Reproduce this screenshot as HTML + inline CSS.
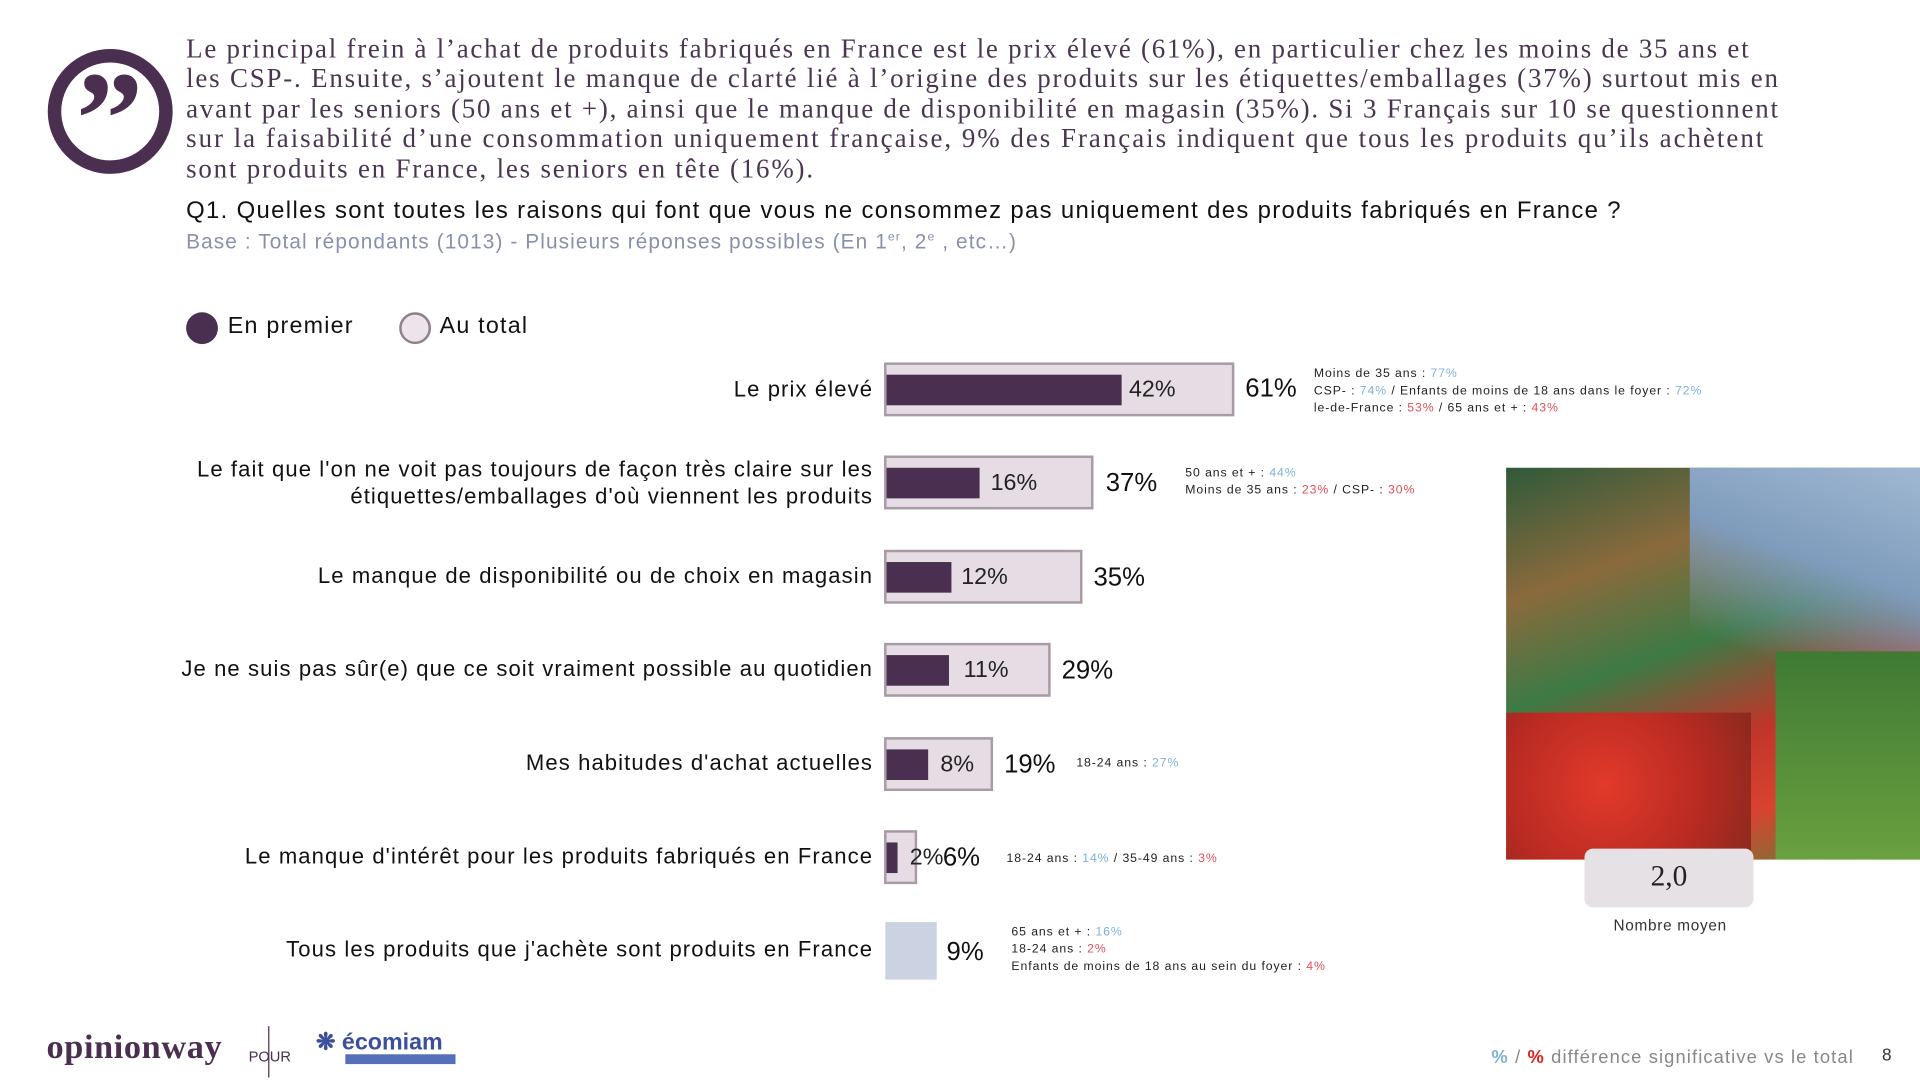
<!DOCTYPE html>
<html><head><meta charset="utf-8"><style>
html,body{margin:0;padding:0;background:#fff;width:1920px;height:1080px;overflow:hidden}
#s{position:absolute;left:0;top:0;width:1568px;height:882px;transform:scale(1.22449);transform-origin:0 0;font-family:"Liberation Sans",sans-serif;color:#111}
.a{position:absolute;white-space:nowrap}
.lab{position:absolute;right:855px;text-align:right;font-size:18px;letter-spacing:0.9px;line-height:22px;color:#111;white-space:nowrap}
.box{position:absolute;left:722px;height:44px;background:#e6dde4;border:2px solid #a89aa6;box-sizing:border-box}
.bar{position:absolute;left:724px;height:25px;background:#4b2f50}
.v{position:absolute;font-size:19px;color:#222}
.t{position:absolute;font-size:21px;color:#111}
.n{position:absolute;font-size:10px;letter-spacing:0.75px;line-height:14px;color:#222;white-space:nowrap}
.b{color:#7fb2d8}.r{color:#e0505a}
</style></head><body><div id="s">
<div class="a" style="left:39px;top:40px;width:80px;height:80px;border:11px solid #4b2f50;border-radius:50%"></div>
<div class="a" style="left:62px;top:34px;font-family:'Liberation Serif',serif;font-size:110px;font-weight:bold;color:#4b2f50;letter-spacing:-6px">&#8221;</div>
<svg class="a" style="left:0;top:0" width="1568" height="160" font-family="Liberation Serif, serif" font-size="22" fill="#4a3650">
<text x="152" y="47" textLength="1276" lengthAdjust="spacing">Le principal frein à l’achat de produits fabriqués en France est le prix élevé (61%), en particulier chez les moins de 35 ans et</text>
<text x="152" y="71" textLength="1300" lengthAdjust="spacing">les CSP-. Ensuite, s’ajoutent le manque de clarté lié à l’origine des produits sur les étiquettes/emballages (37%) surtout mis en</text>
<text x="152" y="96" textLength="1300" lengthAdjust="spacing">avant par les seniors (50 ans et +), ainsi que le manque de disponibilité en magasin (35%). Si 3 Français sur 10 se questionnent</text>
<text x="152" y="120" textLength="1288" lengthAdjust="spacing">sur la faisabilité d’une consommation uniquement française, 9% des Français indiquent que tous les produits qu’ils achètent</text>
<text x="152" y="145" textLength="512" lengthAdjust="spacing">sont produits en France, les seniors en tête (16%).</text>
</svg>
<div class="a" style="left:152px;top:161px;font-size:19.5px;letter-spacing:1.1px;color:#111">Q1. Quelles sont toutes les raisons qui font que vous ne consommez pas uniquement des produits fabriqués en France ?</div>
<div class="a" style="left:152px;top:188px;font-size:17px;letter-spacing:0.9px;color:#8a90ac">Base : Total répondants (1013) - Plusieurs réponses possibles (En 1<sup style="font-size:10px">er</sup>, 2<sup style="font-size:10px">e</sup> , etc…)</div>
<div class="a" style="left:152px;top:255px;width:26px;height:26px;border-radius:50%;background:#4b2f50"></div>
<div class="a" style="left:186px;top:256px;font-size:19px;letter-spacing:1px">En premier</div>
<div class="a" style="left:326px;top:255px;width:22px;height:22px;border-radius:50%;background:#ece4ea;border:2px solid #8f7f8d"></div>
<div class="a" style="left:359px;top:256px;font-size:19px;letter-spacing:1px">Au total</div>

<div class="lab" style="top:307px">Le prix élevé</div>
<div class="box" style="top:296px;width:286px"></div><div class="bar" style="top:306px;width:192px"></div>
<div class="v" style="left:922px;top:308px">42%</div><div class="t" style="left:1017px;top:306px">61%</div>
<div class="n" style="left:1073px;top:299px">Moins de 35 ans : <span class="b">77%</span><br>CSP- : <span class="b">74%</span> / Enfants de moins de 18 ans dans le foyer : <span class="b">72%</span><br>le-de-France : <span class="r">53%</span> / 65 ans et + : <span class="r">43%</span></div>

<div class="lab" style="top:372px">Le fait que l'on ne voit pas toujours de façon très claire sur les<br>étiquettes/emballages d'où viennent les produits</div>
<div class="box" style="top:372px;width:171px"></div><div class="bar" style="top:382px;width:76px"></div>
<div class="v" style="left:809px;top:384px">16%</div><div class="t" style="left:903px;top:383px">37%</div>
<div class="n" style="left:968px;top:380px">50 ans et + : <span class="b">44%</span><br>Moins de 35 ans : <span class="r">23%</span> / CSP- : <span class="r">30%</span></div>

<div class="lab" style="top:459px">Le manque de disponibilité ou de choix en magasin</div>
<div class="box" style="top:449px;width:162px"></div><div class="bar" style="top:459px;width:53px"></div>
<div class="v" style="left:785px;top:461px">12%</div><div class="t" style="left:893px;top:460px">35%</div>

<div class="lab" style="top:535px">Je ne suis pas sûr(e) que ce soit vraiment possible au quotidien</div>
<div class="box" style="top:525px;width:136px"></div><div class="bar" style="top:535px;width:51px"></div>
<div class="v" style="left:787px;top:537px">11%</div><div class="t" style="left:867px;top:536px">29%</div>

<div class="lab" style="top:612px">Mes habitudes d'achat actuelles</div>
<div class="box" style="top:602px;width:89px"></div><div class="bar" style="top:612px;width:34px"></div>
<div class="v" style="left:768px;top:614px">8%</div><div class="t" style="left:820px;top:613px">19%</div>
<div class="n" style="left:879px;top:617px">18-24 ans : <span class="b">27%</span></div>

<div class="lab" style="top:688px">Le manque d'intérêt pour les produits fabriqués en France</div>
<div class="box" style="top:678px;width:27px"></div><div class="bar" style="top:688px;width:9px"></div>
<div class="v" style="left:743px;top:690px">2%</div><div class="t" style="left:770px;top:689px">6%</div>
<div class="n" style="left:822px;top:695px">18-24 ans : <span class="b">14%</span> / 35-49 ans : <span class="r">3%</span></div>

<div class="lab" style="top:764px">Tous les produits que j'achète sont produits en France</div>
<div class="a" style="left:723px;top:753px;width:42px;height:47px;background:#cbd2e2"></div>
<div class="t" style="left:773px;top:766px">9%</div>
<div class="n" style="left:826px;top:755px">65 ans et + : <span class="b">16%</span><br>18-24 ans : <span class="r">2%</span><br>Enfants de moins de 18 ans au sein du foyer : <span class="r">4%</span></div>

<div class="a" style="left:1230px;top:382px;width:338px;height:320px;overflow:hidden;background:linear-gradient(160deg,#2f5a3a 0%,#8a6a3c 25%,#3d7a45 45%,#c0352a 65%,#d8432e 80%,#4f8a3a 100%)">
<div class="a" style="left:150px;top:0;width:188px;height:200px;background:linear-gradient(200deg,#9fb8d2 0%,#7f9cbc 40%,rgba(120,140,160,0) 75%)"></div>
<div class="a" style="left:220px;top:150px;width:118px;height:170px;background:linear-gradient(180deg,#3f7a34,#6aa040)"></div>
<div class="a" style="left:0;top:200px;width:200px;height:120px;background:radial-gradient(circle at 40% 50%,#e23a2a,#b82a22 60%,#8a2a1e)"></div>
</div>
<div class="a" style="left:1294px;top:693px;width:138px;height:48px;border-radius:7px;background:#e6e1e4"></div>
<div class="a" style="left:1294px;top:703px;width:138px;text-align:center;font-family:'Liberation Serif',serif;font-size:24px;color:#222">2,0</div>
<div class="a" style="left:1294px;top:749px;width:140px;text-align:center;font-size:12.5px;letter-spacing:0.6px;color:#333">Nombre moyen</div>

<div class="a" style="left:38px;top:840px;font-family:'Liberation Serif',serif;font-size:28px;font-weight:bold;color:#4b2f50;letter-spacing:0.5px">opinionway</div>
<div class="a" style="left:219px;top:838px;width:1px;height:42px;background:#4b2f50"></div>
<div class="a" style="left:203px;top:856px;font-size:12px;color:#4b2f50">POUR</div>
<div class="a" style="left:258px;top:840px;font-size:19px;font-weight:bold;color:#3c4f9a">❋ écomiam</div>
<div class="a" style="left:282px;top:861px;width:90px;height:8px;background:#5470b8"></div>
<div class="a" style="left:1218px;top:855px;font-size:15px;letter-spacing:0.9px;color:#888"><span class="b" style="font-weight:bold">%</span> / <span style="color:#e02020;font-weight:bold">%</span> différence significative vs le total</div>
<div class="a" style="left:1537px;top:853px;font-size:14px;color:#333">8</div>
</div></body></html>
